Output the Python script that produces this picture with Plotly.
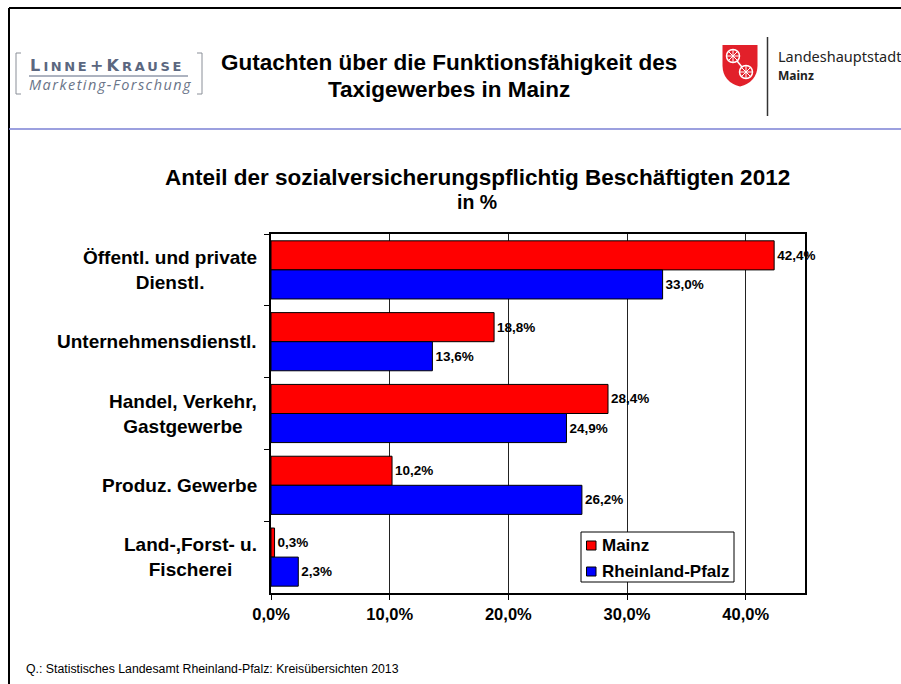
import plotly.graph_objects as go

W, H = 901, 684
FONT = "Liberation Sans"

categories = ["Öffentl. und private<br>Dienstl.", "Unternehmensdienstl.",
              "Handel, Verkehr,<br>Gastgewerbe", "Produz. Gewerbe",
              "Land-,Forst- u.<br>Fischerei"]
mainz = [42.4, 18.8, 28.4, 10.2, 0.3]
rheinland_pfalz = [33.0, 13.6, 24.9, 26.2, 2.3]
x_ticks = [0, 10, 20, 30, 40]
x_tick_labels = ["0,0%", "10,0%", "20,0%", "30,0%", "40,0%"]
series_names = ["Mainz", "Rheinland-Pfalz"]
colors = ["#ff0000", "#0000ff"]


def px(x):
    return x / W


def py(y):
    return 1 - y / H


def label(x, y, text, size, color="#000000", bold=False, anchor="left", family=FONT, italic=False):
    style = text
    if bold:
        style = f"<b>{style}</b>"
    if italic:
        style = f"<i>{style}</i>"
    return dict(x=px(x), y=py(y), xref="paper", yref="paper", text=style, showarrow=False,
                xanchor=anchor, yanchor="middle", align="center", xshift=0, yshift=0,
                borderpad=0, borderwidth=0,
                font=dict(family=family, size=size, color=color))


def line(x0, y0, x1, y1, color="#000000", width=1):
    return dict(type="line", xref="paper", yref="paper", x0=px(x0), y0=py(y0), x1=px(x1), y1=py(y1),
                line=dict(color=color, width=width), layer="above")


def rect(x0, y0, x1, y1, fill, width=1):
    return dict(type="rect", xref="paper", yref="paper", x0=px(x0), y0=py(y0), x1=px(x1), y1=py(y1),
                fillcolor=fill, line=dict(color="#000000", width=width), layer="above")


fig = go.Figure()
for name, vals, col in zip(series_names, [mainz, rheinland_pfalz], colors):
    fig.add_trace(go.Bar(
        y=categories, x=vals, name=name, orientation="h",
        marker=dict(color=col, line=dict(color="#000000", width=1)),
        text=[f"{v:.1f}%".replace(".", ",") for v in vals],
        textposition="outside", cliponaxis=False,
        textfont=dict(family=FONT, size=13.5, color="#000000", weight="bold"),
        hoverinfo="skip",
    ))

hair = "\u200a"
thin = "\u2009"
logo_big = "<span style='font-size:16px'>{}</span>"
logo_small = "<span style='font-size:13px'>{}</span>"
logo_text = (logo_big.format("L") + thin + logo_small.format(thin.join("INNE")) + thin + logo_big.format("+") + thin
             + logo_big.format("K") + thin + logo_small.format(thin.join("RAUSE")))
annotations = [
    label(448.5, 62, "Gutachten über die Funktionsfähigkeit des", 22.5, bold=True, anchor="center"),
    label(449, 89, "Taxigewerbes in Mainz", 22.5, bold=True, anchor="center"),
    label(477, 177, "Anteil der sozialversicherungspflichtig Beschäftigten 2012", 22.5, bold=True, anchor="center"),
    label(477, 202, "in %", 19.5, bold=True, anchor="center"),
    label(26, 669, "Q.: Statistisches Landesamt Rheinland-Pfalz: Kreisübersichten 2013", 12.3),
    label(30, 66, logo_text, 16, color="#5b6780", bold=True, family="DejaVu Sans"),
    label(29, 85, hair.join("Marketing-Forschung"), 14.5, color="#6a7488", italic=True, family="Open Sans"),
    label(778, 56, "Landeshauptstadt", 14.5, color="#222222", family="Noto Sans"),
    label(778, 75, "Mainz", 12, color="#222222", bold=True, family="Noto Sans"),
    label(602, 545, "Mainz", 17, bold=True),
    label(602, 571, "Rheinland-Pfalz", 17, bold=True),
]
for cat in categories:
    annotations.append(dict(
        x=px(259), y=cat, xref="paper", yref="y", text=f"<b>{cat}</b>", showarrow=False,
        xanchor="right", yanchor="middle", align="center",
        font=dict(family=FONT, size=19, color="#000000"),
    ))

shapes = [
    line(9, 8, 901, 8, width=2),
    line(9, 8, 9, 684, width=2),
    line(9, 129, 901, 129, color="#7b80d4", width=1.5),
    # logo brackets
    line(16, 53, 16, 94, "#8a8f98"), line(16, 53, 21, 53, "#8a8f98"), line(16, 94, 21, 94, "#8a8f98"),
    line(202, 53, 202, 94, "#8a8f98"), line(197, 53, 202, 53, "#8a8f98"), line(197, 94, 202, 94, "#8a8f98"),
    line(29, 76, 188, 76, "#5b6780"),
    # crest
    line(767.5, 37, 767.5, 116, "#333333", 1.5),
    dict(type="path", xref="paper", yref="paper", layer="above",
         path=(f"M {px(722.5)} {py(45)} L {px(757.5)} {py(45)} L {px(757.5)} {py(66)} "
               f"Q {px(757)} {py(82)} {px(740)} {py(86.5)} Q {px(723)} {py(82)} {px(722.5)} {py(66)} Z"),
         fillcolor="#e2202a", line=dict(width=0)),
    line(733, 56, 746, 72, "#ffffff", 1.5),
    # legend box
    rect(581, 532, 734, 582, "#ffffff"),
    rect(586.5, 541, 596, 550, colors[0]),
    rect(586.5, 567, 596, 576, colors[1]),
]
for cx, cy in [(733, 56), (746, 72)]:
    shapes.append(dict(type="circle", xref="paper", yref="paper", layer="above",
                       x0=px(cx - 6.5), x1=px(cx + 6.5), y0=py(cy + 6.5), y1=py(cy - 6.5),
                       fillcolor="#e2202a", line=dict(color="#ffffff", width=1.5)))
    shapes.append(line(cx - 6, cy, cx + 6, cy, "#ffffff", 1))
    shapes.append(line(cx, cy - 6, cx, cy + 6, "#ffffff", 1))
    shapes.append(line(cx - 4.3, cy - 4.3, cx + 4.3, cy + 4.3, "#ffffff", 1))
    shapes.append(line(cx - 4.3, cy + 4.3, cx + 4.3, cy - 4.3, "#ffffff", 1))

fig.update_layout(
    width=W, height=H, margin=dict(l=0, r=0, t=0, b=0, autoexpand=False),
    paper_bgcolor="#ffffff", plot_bgcolor="#ffffff",
    barmode="group", bargap=0.19, bargroupgap=0,
    showlegend=False,
    xaxis=dict(domain=[px(271), px(805)], range=[0, 45], tickmode="array", tickvals=x_ticks, ticktext=x_tick_labels,
               showgrid=True, gridcolor="#222222", gridwidth=1, zeroline=False,
               showline=True, linecolor="#000000", linewidth=1.5, mirror=True,
               ticks="outside", ticklen=5, tickcolor="#000000",
               tickfont=dict(family=FONT, size=16.5, color="#000000", weight="bold")),
    yaxis=dict(domain=[py(593), py(234)], autorange="reversed", type="category", tickson="boundaries",
               showticklabels=False, showline=True, linecolor="#000000", linewidth=1.5, mirror=True,
               ticks="outside", ticklen=5, tickcolor="#000000", showgrid=False),
    annotations=annotations, shapes=shapes,
)
fig.write_html("out.html", config=dict(displayModeBar=False),
               post_script="document.body.style.margin='0';document.body.style.overflow='hidden';")
